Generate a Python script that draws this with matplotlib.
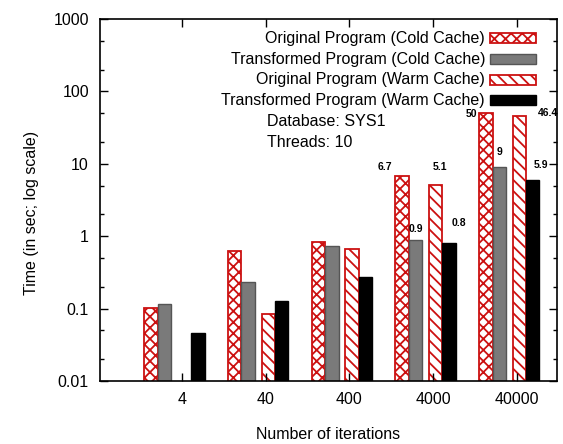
import numpy as np
import matplotlib
matplotlib.use('Agg')
import matplotlib.pyplot as plt
from matplotlib.patches import Rectangle
from matplotlib.ticker import LogLocator, NullFormatter

plt.rcParams['font.family'] = ['Liberation Sans', 'DejaVu Sans']
plt.rcParams['hatch.linewidth'] = 1.3

# Datos
iteraciones = ['4', '40', '400', '4000', '40000']
series = ['Original Program (Cold Cache)', 'Transformed Program (Cold Cache)',
          'Original Program (Warm Cache)', 'Transformed Program (Warm Cache)']
orig_cold = [0.101, 0.625, 0.84, 6.7, 50]
trans_cold = [0.115, 0.235, 0.74, 0.9, 9]
orig_warm = [np.nan, 0.084, 0.666, 5.1, 46.4]
trans_warm = [0.0465, 0.128, 0.27, 0.8, 5.9]

# Estilos de cada serie
rojo = '#cc1111'
estilos = [
    dict(facecolor='white', edgecolor=rojo, hatch='xxx', linewidth=1.3),
    dict(facecolor='#7a7a7a', edgecolor='#555555', linewidth=1.0),
    dict(facecolor='white', edgecolor=rojo, hatch='\\\\\\', linewidth=1.3),
    dict(facecolor='black', edgecolor='black', linewidth=1.0),
]
desplaz = [-0.37, -0.21, 0.03, 0.19]
ancho = 0.16
fs = 11.5

fig = plt.figure(figsize=(5.63, 4.44), dpi=100)
ax = fig.add_axes([100 / 563, 63 / 444, 457 / 563, 362 / 444])
ax.set_yscale('log')

x = np.arange(len(iteraciones))
barras = []
for datos, est, dx in zip([orig_cold, trans_cold, orig_warm, trans_warm], estilos, desplaz):
    b = ax.bar(x + dx, datos, width=ancho, **est)
    barras.append(b)

ax.set_xlim(-0.98, 4.48)
ax.set_ylim(0.01, 1000)
ax.set_xticks(x)
ax.set_xticklabels(iteraciones, fontsize=fs)
ax.yaxis.set_minor_locator(LogLocator(base=10, subs=(2.0, 5.0), numticks=10))
ax.yaxis.set_minor_formatter(NullFormatter())
ax.set_yticks([0.01, 0.1, 1, 10, 100, 1000])
ax.set_yticklabels(['0.01', '0.1', '1', '10', '100', '1000'], fontsize=fs)
ax.tick_params(which='both', direction='in', top=True, right=True, width=1.0)
ax.tick_params(which='major', length=6, pad=8)
ax.tick_params(which='minor', length=3)
ax.tick_params(axis='x', which='minor', top=False, bottom=False)
for s in ax.spines.values():
    s.set_linewidth(1.2)

fig.text(32 / 563, 1 - 213 / 444, 'Time (in sec; log scale)', rotation=90,
         ha='center', va='center', fontsize=fs)
fig.text(328 / 563, 1 - 434 / 444, 'Number of iterations', ha='center', va='center', fontsize=fs)

# Etiquetas de valores (desplazamiento en pixeles respecto al tope de la barra)
etiquetas = [
    (0, 3, '6.7', -17, 9), (1, 3, '0.9', 0, 11), (2, 3, '5.1', 4, 18), (3, 3, '0.8', 10, 20),
    (0, 4, '50', -14, -1), (1, 4, '9', 0, 15), (2, 4, '46.4', 29, 3), (3, 4, '5.9', 8, 15),
]
for serie, grupo, txt, px, py in etiquetas:
    rect = barras[serie][grupo]
    ax.annotate(txt, xy=(rect.get_x() + rect.get_width() / 2, rect.get_height()),
                xytext=(px, py), textcoords='offset pixels', ha='center', va='center',
                fontsize=7.5, fontweight='bold')

# Leyenda manual (texto alineado a la derecha y muestra a la derecha)
filas_y = [0.9475, 0.8895, 0.8315, 0.776]
for nombre, est, fy in zip(series, estilos, filas_y):
    ax.text(0.8425, fy, nombre, ha='right', va='center', fontsize=fs, transform=ax.transAxes)
    ax.add_patch(Rectangle((0.8534, fy - 0.0138), 0.1006, 0.0276, transform=ax.transAxes,
                           clip_on=False, **est))
ax.text(0.365, 0.718, 'Database: SYS1', ha='left', va='center', fontsize=fs, transform=ax.transAxes)
ax.text(0.365, 0.660, 'Threads: 10', ha='left', va='center', fontsize=fs, transform=ax.transAxes)

plt.savefig('out.png', dpi=100)
